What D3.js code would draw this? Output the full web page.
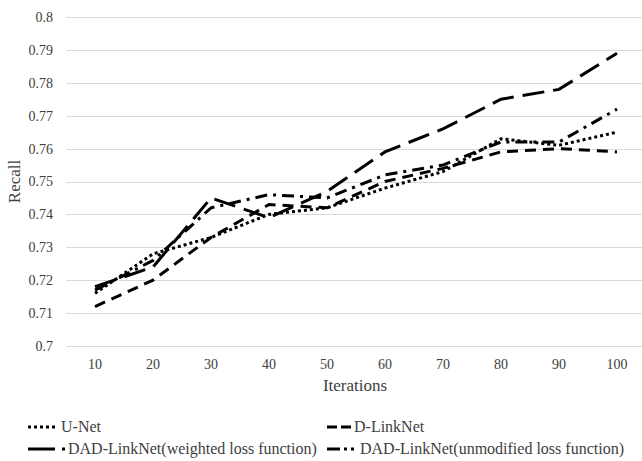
<!DOCTYPE html>
<meta charset="utf-8">
<head>
    <style>
        body { margin: 0; background: white; }
        svg text { font-family: "Liberation Serif", "Times New Roman", serif; fill: #404040; }
        .grid line { stroke: #d9d9d9; stroke-width: 1; shape-rendering: crispEdges; }
        .grid path { stroke-width: 0; }
    </style>
</head>
<body>
    <script src="https://d3js.org/d3.v7.min.js"></script>
    <div id="chart"></div>
    <script>
        // data
        var iterations = [10, 20, 30, 40, 50, 60, 70, 80, 90, 100];
        var unet = [0.716, 0.728, 0.733, 0.740, 0.742, 0.748, 0.753, 0.763, 0.761, 0.765];
        var dlinknet = [0.712, 0.720, 0.733, 0.743, 0.742, 0.750, 0.754, 0.759, 0.760, 0.759];
        var dadWeighted = [0.718, 0.724, 0.745, 0.739, 0.747, 0.759, 0.766, 0.775, 0.778, 0.789];
        var dadUnmodified = [0.717, 0.726, 0.742, 0.746, 0.745, 0.752, 0.755, 0.762, 0.762, 0.772];
        var yTicks = [0.7, 0.71, 0.72, 0.73, 0.74, 0.75, 0.76, 0.77, 0.78, 0.79, 0.8];

        var series = [
            { name: "U-Net", values: unet, dash: "3,3" },
            { name: "D-LinkNet", values: dlinknet, dash: "11,7" },
            { name: "DAD-LinkNet(weighted loss function)", values: dadWeighted, dash: "22,9" },
            { name: "DAD-LinkNet(unmodified loss function)", values: dadUnmodified, dash: "12,6,3,6" }
        ];

        var W = 642, H = 461;
        var plotLeft = 66, plotRight = 646, plotTop = 17, plotBottom = 346;

        var svg = d3.select("#chart").append("svg")
            .attr("width", W)
            .attr("height", H);

        var x = d3.scalePoint()
            .domain(iterations)
            .range([plotLeft, plotRight])
            .padding(0.5);

        var y = d3.scaleLinear()
            .domain([0.7, 0.8])
            .range([plotBottom, plotTop]);

        // horizontal grid lines
        svg.append("g")
            .attr("class", "grid")
            .attr("transform", "translate(" + plotLeft + ",0)")
            .call(d3.axisLeft(y).tickValues(yTicks).tickSize(-(W - plotLeft)).tickFormat(""));

        // y tick labels
        svg.append("g")
            .selectAll("text")
            .data(yTicks)
            .enter()
            .append("text")
            .attr("x", 53)
            .attr("y", function (d) { return y(d); })
            .attr("dy", "0.35em")
            .attr("text-anchor", "end")
            .style("font-size", "14px")
            .text(function (d) { return String(+d.toFixed(2)); });

        // x tick labels
        svg.append("g")
            .selectAll("text")
            .data(iterations)
            .enter()
            .append("text")
            .attr("x", function (d) { return x(d); })
            .attr("y", 369)
            .attr("text-anchor", "middle")
            .style("font-size", "14px")
            .text(function (d) { return d; });

        // axis titles
        svg.append("text")
            .attr("transform", "translate(20," + (plotTop + plotBottom) / 2 + ") rotate(-90)")
            .attr("text-anchor", "middle")
            .style("font-size", "17px")
            .text("Recall");

        svg.append("text")
            .attr("x", 355)
            .attr("y", 391)
            .attr("text-anchor", "middle")
            .style("font-size", "17px")
            .text("Iterations");

        // lines
        var line = d3.line()
            .x(function (d, i) { return x(iterations[i]); })
            .y(function (d) { return y(d); });

        svg.append("g")
            .selectAll("path")
            .data(series)
            .enter()
            .append("path")
            .attr("d", function (d) { return line(d.values); })
            .attr("fill", "none")
            .attr("stroke", "black")
            .attr("stroke-width", 3)
            .attr("stroke-dasharray", function (d) { return d.dash; });

        // legend
        var legendPos = [
            { x: 28, y: 432 },
            { x: 327, y: 432 },
            { x: 28, y: 454 },
            { x: 327, y: 454 }
        ];
        var legendDash = ["3,3", "10,4,10,100", "27,7,3,100", "13,4,3,4,3,100"];
        var legendLen = [30, 24, 37, 30];

        var lg = svg.append("g")
            .selectAll("g")
            .data(series)
            .enter()
            .append("g")
            .attr("transform", function (d, i) { return "translate(" + legendPos[i].x + "," + legendPos[i].y + ")"; });

        lg.append("line")
            .attr("x1", 0)
            .attr("x2", function (d, i) { return legendLen[i]; })
            .attr("y1", -5)
            .attr("y2", -5)
            .attr("stroke", "black")
            .attr("stroke-width", 3)
            .attr("stroke-dasharray", function (d, i) { return legendDash[i]; });

        lg.append("text")
            .attr("x", function (d, i) { return legendLen[i] + 3; })
            .attr("y", 0)
            .style("font-size", "16px")
            .text(function (d) { return d.name; });
    </script>
</body>
